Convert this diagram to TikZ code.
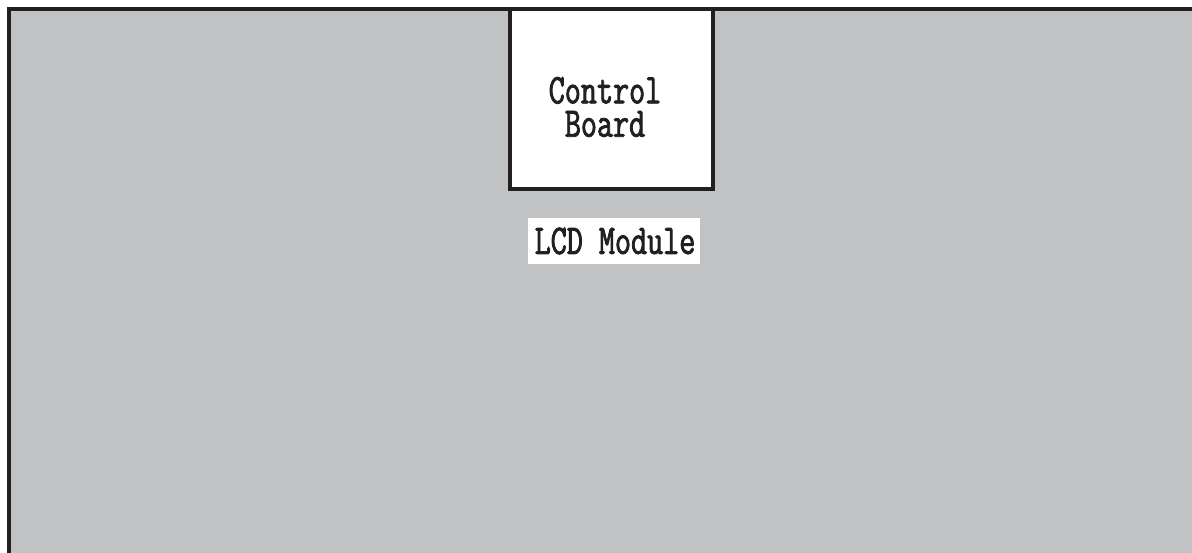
\documentclass[tikz,border=0pt]{standalone}
\usepackage{fontspec}
\usepackage{tikz}
\usepackage{xcolor}
\newfontfamily\panelfont[FakeStretch=0.74,FakeBold=2]{Latin Modern Mono}
\definecolor{c1}{HTML}{C1C2C4}
\definecolor{c2}{HTML}{231F20}

\begin{document}
\begin{tikzpicture}[x=0.02cm,y=-0.02cm,
  frame/.style={draw=c2, line width=0.08cm},
  board/.style={frame, fill=white, minimum width=4.06cm, minimum height=3.6cm, inner sep=0pt},
  tag/.style={fill=white, minimum width=3.44cm, minimum height=0.92cm, inner sep=0pt},
  txt/.style={font=\panelfont\fontsize{24}{19}\selectfont, text=c2, align=center}]
  \clip (0,0) rectangle (1192,553);
  \fill[white] (0,0) rectangle (1192,553);
  % LCD panel
  \draw[frame, fill=c1] (9,9) rectangle (1220,580);
  % Control board on top edge
  \node[board] (ctrl) at (611.5,99) {};
  \node[txt] (ctrltxt) at (605,107) {Control\\Board};
  % Module label
  \node[tag] (lcd) at (614,241) {};
  \node[txt] (lcdtxt) at (615,241) {LCD Module};
\end{tikzpicture}
\end{document}
